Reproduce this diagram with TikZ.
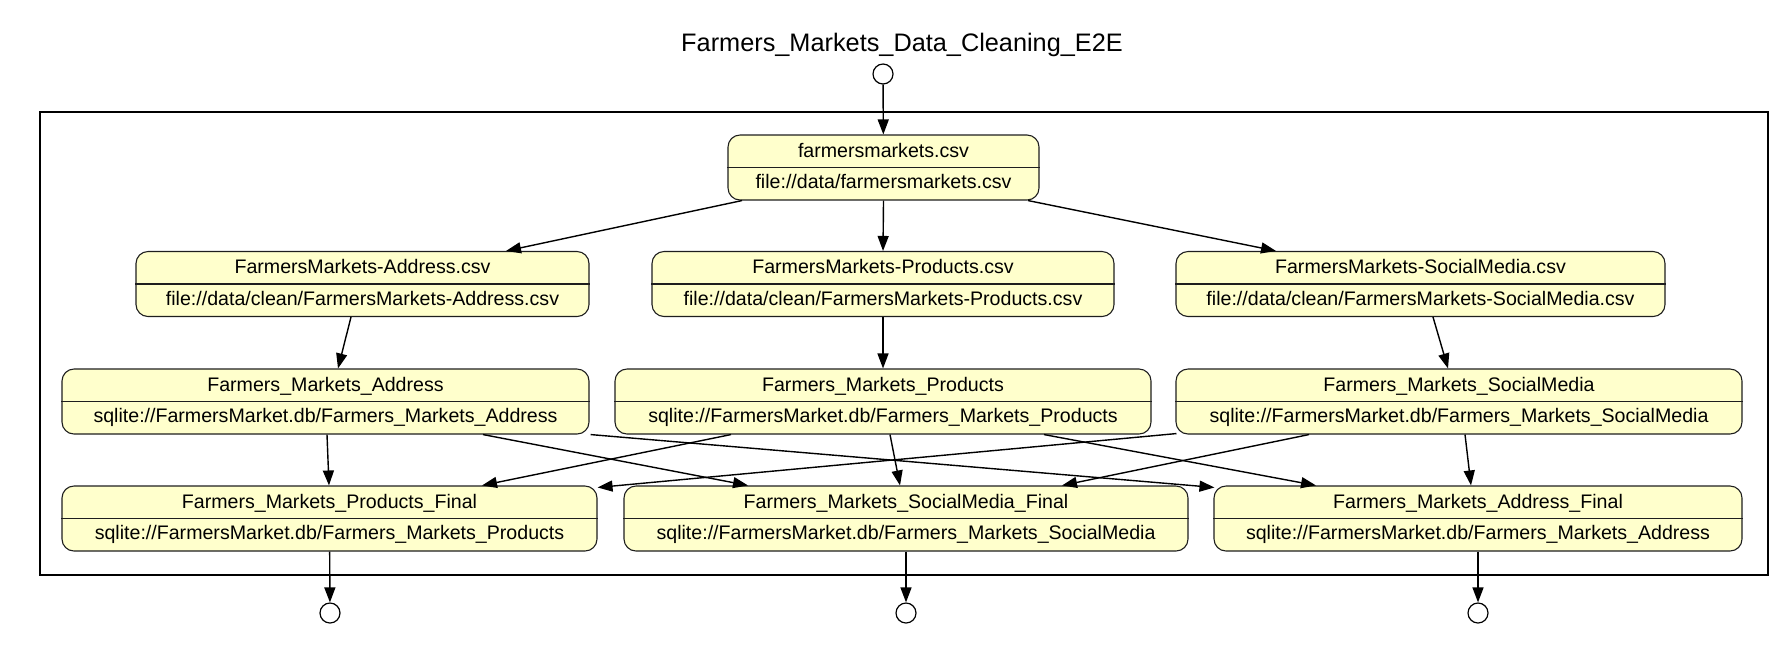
\documentclass[tikz,border=0pt]{standalone}
\usepackage{fontspec}
\setmainfont{Liberation Sans}
\usetikzlibrary{arrows.meta, calc}
\definecolor{storefill}{RGB}{255,255,204}
\definecolor{storeline}{RGB}{30,30,30}

% one data store: name, position, width (px), title, uri
\newcommand{\storenode}[5]{%
    \node[store, minimum width=#3*0.5pt] (#1) at (#2) {};
    \draw[storeline, line width=0.55pt] (#1.west) -- (#1.east);
    \node[storetext] (#1-name) at ($(#1.center)+(0,-10.5)$) {#4};
    \node[storetext] (#1-uri) at ($(#1.center)+(0,21)$) {#5};
}

\begin{document}
\begin{tikzpicture}[x=0.5pt, y=-0.5pt,
    store/.style={draw=storeline, line width=0.55pt, fill=storefill, rounded corners=6pt,
        minimum height=32.5pt, inner sep=0pt},
    storetext/.style={anchor=base, inner sep=0pt, font=\fontsize{9.8}{12}\selectfont},
    terminal/.style={draw, circle, line width=0.6pt, minimum size=10pt, inner sep=0pt},
    flow/.style={line width=0.7pt, -{Triangle[length=7.5pt, width=5.5pt]}},
    title/.style={anchor=base, inner sep=0pt, font=\fontsize{12.65}{15}\selectfont}]
    \useasboundingbox (0,0) rectangle (1791,655);

    % Title and frame
    \node[title] (title) at (902,51) {Farmers\_Markets\_Data\_Cleaning\_E2E};
    \draw[line width=1.3pt] (40,112) rectangle (1768,575);

    % Source file
    \storenode{src}{883.5,167.5}{311}{farmersmarkets.csv}{file://data/farmersmarkets.csv}

    % Cleaned files
    \storenode{addrcsv}{362.5,284}{453}{FarmersMarkets-Address.csv}{file://data/clean/FarmersMarkets-Address.csv}
    \storenode{prodcsv}{883,284}{462}{FarmersMarkets-Products.csv}{file://data/clean/FarmersMarkets-Products.csv}
    \storenode{smcsv}{1420.5,284}{489}{FarmersMarkets-SocialMedia.csv}{file://data/clean/FarmersMarkets-SocialMedia.csv}

    % Tables
    \storenode{addr}{325.5,401.5}{527}{Farmers\_Markets\_Address}{sqlite://FarmersMarket.db/Farmers\_Markets\_Address}
    \storenode{prod}{883,401.5}{536}{Farmers\_Markets\_Products}{sqlite://FarmersMarket.db/Farmers\_Markets\_Products}
    \storenode{sm}{1459,401.5}{566}{Farmers\_Markets\_SocialMedia}{sqlite://FarmersMarket.db/Farmers\_Markets\_SocialMedia}

    % Final tables
    \storenode{prodfin}{329.5,518.5}{535}{Farmers\_Markets\_Products\_Final}{sqlite://FarmersMarket.db/Farmers\_Markets\_Products}
    \storenode{smfin}{906,518.5}{564}{Farmers\_Markets\_SocialMedia\_Final}{sqlite://FarmersMarket.db/Farmers\_Markets\_SocialMedia}
    \storenode{addrfin}{1478,518.5}{528}{Farmers\_Markets\_Address\_Final}{sqlite://FarmersMarket.db/Farmers\_Markets\_Address}

    % Start and end points
    \node[terminal] (in) at (883,74) {};
    \node[terminal] (out1) at (330,613) {};
    \node[terminal] (out2) at (906,613) {};
    \node[terminal] (out3) at (1478,613) {};

    % Flows
    \draw[flow] (in) -- (src);
    \foreach \a/\da/\b/\db in {src/-141.5/addrcsv/143.5, src/0/prodcsv/0, src/144.5/smcsv/-144.5,
        addrcsv/-11.5/addr/12.5, prodcsv/0/prod/0, smcsv/12.5/sm/-11,
        addr/1.5/prodfin/-0.5, addr/157.5/smfin/-158,
        prod/-152/prodfin/152.5, prod/7/smfin/-6, prod/161/addrfin/-162,
        sm/-150/smfin/156, sm/6/addrfin/-7} {
        \draw[flow] ($(\a.south)+(\da,0)$) -- ($(\b.north)+(\db,0)$);
    }
    \draw[flow] ($(addr.south east)+(1,0)$) -- ($(addrfin.north west)+(1,2)$);
    \draw[flow] ($(sm.south west)+(1,-1)$) -- ($(prodfin.north east)+(0,2)$);
    \draw[flow] (prodfin) -- (out1);
    \draw[flow] (smfin) -- (out2);
    \draw[flow] (addrfin) -- (out3);
\end{tikzpicture}
\end{document}
